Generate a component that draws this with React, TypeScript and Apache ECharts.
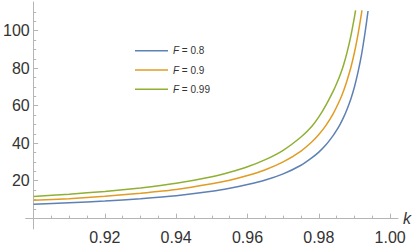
import React, { useEffect, useRef } from "react";
import * as echarts from "echarts";

// Curve samples: [k, value]
const seriesF08: [number, number][] = [
  [0.9, 7.4], [0.91, 8.2], [0.92, 9.1], [0.93, 10.4], [0.94, 12.0], [0.95, 14.3],
  [0.955, 15.9], [0.96, 17.9], [0.965, 20.3], [0.97, 23.6], [0.975, 28.2],
  [0.978, 32.1], [0.98, 35.2], [0.982, 39.1], [0.984, 44.0], [0.985, 46.9],
  [0.986, 50.2], [0.987, 54.0], [0.988, 58.5], [0.989, 63.7], [0.99, 70.1],
  [0.991, 78.0], [0.992, 87.5], [0.993, 99.5], [0.9938, 110.5],
];
const seriesF09: [number, number][] = [
  [0.9, 9.5], [0.91, 10.4], [0.92, 11.7], [0.93, 13.3], [0.94, 15.3], [0.95, 18.3],
  [0.955, 20.2], [0.96, 22.7], [0.965, 25.8], [0.97, 30.0], [0.975, 35.8],
  [0.978, 40.6], [0.98, 44.6], [0.982, 49.5], [0.984, 55.6], [0.986, 63.4],
  [0.987, 68.2], [0.988, 74.0], [0.989, 80.5], [0.99, 88.5], [0.991, 98.2],
  [0.9921, 110.8],
];
const seriesF099: [number, number][] = [
  [0.9, 11.6], [0.91, 12.8], [0.92, 14.2], [0.93, 16.1], [0.94, 18.6], [0.95, 22.1],
  [0.955, 24.5], [0.96, 27.4], [0.965, 31.2], [0.97, 36.2], [0.975, 43.3],
  [0.978, 48.9], [0.98, 54.0], [0.982, 60.3], [0.984, 67.6], [0.985, 71.8],
  [0.986, 76.5], [0.987, 82.1], [0.988, 89.1], [0.989, 97.4], [0.99, 107.4],
  [0.9903, 110.8],
];
const seriesNames = ["F = 0.8", "F = 0.9", "F = 0.99"];
const seriesColors = ["#5E81B5", "#E19C24", "#8FB032"];

const xMajorTicks = [0.92, 0.94, 0.96, 0.98, 1.0];
const xMinorTicks = [
  0.905, 0.91, 0.915, 0.925, 0.93, 0.935, 0.945, 0.95, 0.955, 0.965, 0.97, 0.975,
  0.985, 0.99, 0.995,
];
const yMajorTicks = [20, 40, 60, 80, 100];
const yMinorTicks = [5, 10, 15, 25, 30, 35, 45, 50, 55, 65, 70, 75, 85, 90, 95, 105, 110];

const X_MIN = 0.8978;
const X_MAX = 1.0022;
const Y_MIN = -5.8;
const Y_MAX = 115.3;

const AXIS_COLOR = "#b5b5b5";
const LABEL_COLOR = "#333333";
const FONT = "'Liberation Sans', Arial, sans-serif";

export default function App() {
  const ref = useRef<HTMLDivElement>(null);

  useEffect(() => {
    if (!ref.current) return;
    const chart = echarts.init(ref.current, undefined, { renderer: "svg" });
    const data = [seriesF08, seriesF09, seriesF099];
    chart.setOption({
      animation: false,
      textStyle: { fontFamily: FONT },
      grid: { left: 22, right: 17, top: 2, bottom: 13, containLabel: false },
      legend: {
        orient: "vertical",
        left: 135,
        top: 45.7,
        padding: 0,
        icon: "rect",
        itemWidth: 33,
        itemHeight: 1.6,
        itemGap: 9.3,
        data: seriesNames,
        formatter: (name: string) => "{i|F}" + name.slice(1),
        textStyle: {
          fontSize: 10,
          lineHeight: 10,
          color: LABEL_COLOR,
          fontFamily: FONT,
          rich: {
            i: { fontStyle: "italic", fontSize: 10, lineHeight: 10, color: LABEL_COLOR, fontFamily: FONT },
          },
        },
      },
      xAxis: [
        {
          type: "value",
          min: X_MIN,
          max: X_MAX,
          position: "bottom",
          name: "k",
          nameLocation: "end",
          nameGap: 5,
          nameTextStyle: {
            fontStyle: "italic",
            fontSize: 16,
            color: LABEL_COLOR,
            verticalAlign: "middle",
            padding: [0, 0, 14, 0],
            fontFamily: FONT,
          },
          axisLine: { show: true, onZero: true, lineStyle: { color: AXIS_COLOR, width: 1 } },
          axisTick: {
            show: true,
            inside: true,
            length: 4.5,
            customValues: xMajorTicks,
            lineStyle: { color: AXIS_COLOR, width: 1 },
          },
          axisLabel: {
            show: true,
            customValues: xMajorTicks,
            margin: 8,
            verticalAlign: "middle",
            lineHeight: 16,
            fontSize: 16,
            color: LABEL_COLOR,
            fontFamily: FONT,
            formatter: (v: number) => v.toFixed(2),
          },
          splitLine: { show: false },
        },
        {
          type: "value",
          min: X_MIN,
          max: X_MAX,
          position: "bottom",
          axisLine: { show: false, onZero: true },
          axisTick: {
            show: true,
            inside: true,
            length: 2.5,
            customValues: xMinorTicks,
            lineStyle: { color: AXIS_COLOR, width: 1 },
          },
          axisLabel: { show: false },
          splitLine: { show: false },
        },
      ],
      yAxis: [
        {
          type: "value",
          min: Y_MIN,
          max: Y_MAX,
          position: "left",
          offset: -8,
          axisLine: { show: true, onZero: false, lineStyle: { color: AXIS_COLOR, width: 1 } },
          axisTick: {
            show: true,
            inside: true,
            length: 4.5,
            customValues: yMajorTicks,
            lineStyle: { color: AXIS_COLOR, width: 1 },
          },
          axisLabel: {
            show: true,
            customValues: yMajorTicks,
            margin: 4,
            fontSize: 16,
            color: LABEL_COLOR,
            fontFamily: FONT,
          },
          splitLine: { show: false },
        },
        {
          type: "value",
          min: Y_MIN,
          max: Y_MAX,
          position: "left",
          offset: -8,
          axisLine: { show: false, onZero: false },
          axisTick: {
            show: true,
            inside: true,
            length: 2.5,
            customValues: yMinorTicks,
            lineStyle: { color: AXIS_COLOR, width: 1 },
          },
          axisLabel: { show: false },
          splitLine: { show: false },
        },
      ],
      series: data.map((d, i) => ({
        name: seriesNames[i],
        type: "line",
        xAxisIndex: 0,
        yAxisIndex: 0,
        data: d,
        showSymbol: false,
        symbol: "none",
        smooth: 0.2,
        lineStyle: { color: seriesColors[i], width: 1.5 },
        itemStyle: { color: seriesColors[i] },
      })),
    });
    return () => chart.dispose();
  }, []);

  return <div ref={ref} style={{ width: 415, height: 245, position: "absolute", left: 0, top: 0 }} />;
}
